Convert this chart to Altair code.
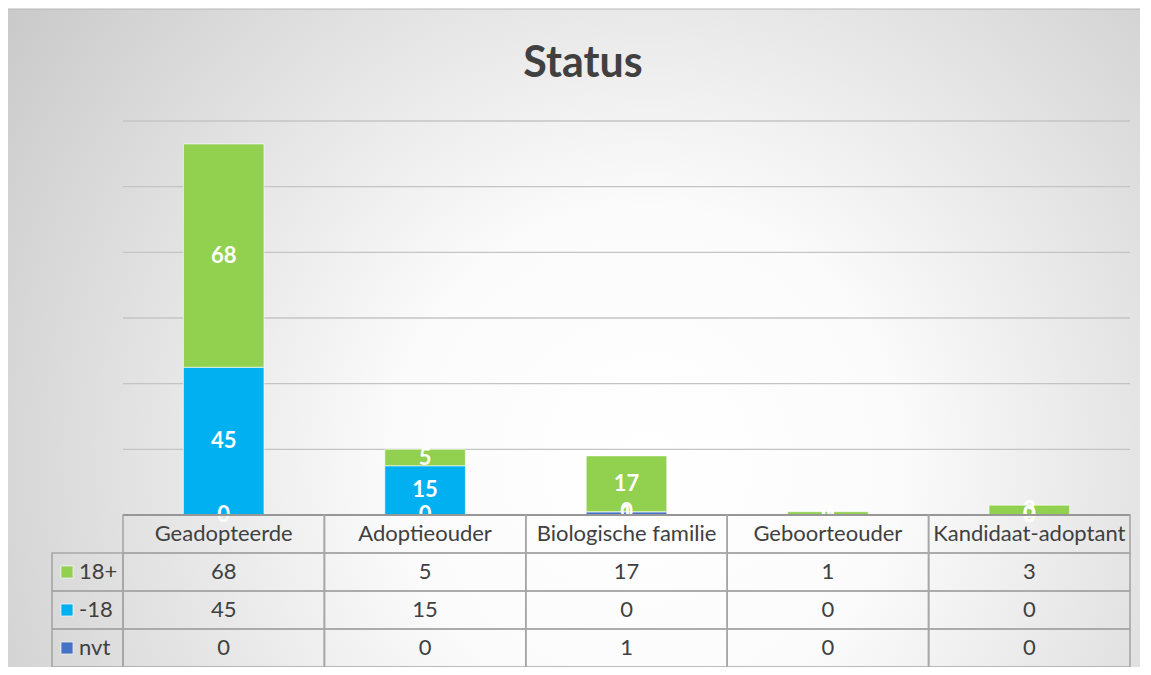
import altair as alt
import pandas as pd

# ---- data ----
categories = ["Geadopteerde", "Adoptieouder", "Biologische familie", "Geboorteouder", "Kandidaat-adoptant"]
values_18plus = [68, 5, 17, 1, 3]
values_min18 = [45, 15, 0, 0, 0]
values_nvt = [0, 0, 1, 0, 0]
stack_series = ["nvt", "-18", "18+"]          # bottom -> top
table_rows = ["18+", "-18", "nvt"]            # table order
series_colors = ["#92D050", "#00B0F0", "#4472C4"]  # for table_rows order
y_ticks = [20, 40, 60, 80, 100, 120]
title_text = "Status"

series_values = {"nvt": values_nvt, "-18": values_min18, "18+": values_18plus}

rows = []
for i, c in enumerate(categories):
    for o, s in enumerate(stack_series):
        rows.append({"cat": c, "series": s, "value": series_values[s][i], "ord": o})
df = pd.DataFrame(rows)

trows = []
for i, c in enumerate(categories):
    trows.append({"cat": c, "row": "header", "label": c})
    for s in table_rows:
        trows.append({"cat": c, "row": s, "label": str(series_values[s][i])})
tdf = pd.DataFrame(trows)
ldf = pd.DataFrame({"row": table_rows, "series": table_rows})

# ---- layout ----
W, PH, TH = 1007, 394, 152
H = PH + TH
FONT = "Lato"
TXT = "#404040"
LINE = "#a6a6a6"

x = alt.X("cat:N", sort=categories,
          scale=alt.Scale(domain=categories, paddingInner=0, paddingOuter=0), axis=None)
color = alt.Color("series:N", scale=alt.Scale(domain=table_rows, range=series_colors), legend=None)

yscale = alt.Scale(domain=[0, 120], range=[PH, 0], nice=False, zero=True)

grid = alt.Chart(pd.DataFrame({"t": y_ticks})).mark_rule(color="#c4c4c4", strokeWidth=1.3).encode(
    y=alt.Y("t:Q", scale=yscale, axis=None), x=alt.value(0), x2=alt.value(W))

base = alt.Chart(df).transform_stack(
    stack="value", groupby=["cat"], as_=["y0", "y1"],
    sort=[alt.SortField("ord", order="ascending")]
).transform_calculate(mid="(datum.y0 + datum.y1) / 2")

bars = base.mark_bar(width=alt.RelativeBandSize(0.4), stroke="#ffffff",
                     strokeWidth=1, strokeOpacity=0.6).encode(
    x=x, y=alt.Y("y0:Q", scale=yscale, axis=None), y2="y1:Q", color=color)

labels = base.mark_text(font=FONT, fontSize=22, fontWeight="bold", color="white",
                        baseline="middle").encode(
    x=x, y=alt.Y("mid:Q", scale=yscale, axis=None), text="value:Q")

axis_rule = alt.Chart(pd.DataFrame({"v": [0]})).mark_rule(color="#6b6b6b", strokeWidth=2).encode(
    y=alt.Y("v:Q", scale=yscale, axis=None), x=alt.value(0), x2=alt.value(W))

bar_group = alt.layer(grid, bars, labels, axis_rule)

yt = alt.Y("row:N", scale=alt.Scale(domain=["header"] + table_rows, range=[PH, H],
                                    paddingInner=0, paddingOuter=0), axis=None)

cells = alt.Chart(tdf).mark_rect(fillOpacity=0, stroke=LINE, strokeWidth=1.6).encode(x=x, y=yt)
cell_text = alt.Chart(tdf).mark_text(font=FONT, fontSize=22, color=TXT, baseline="middle").encode(
    x=x, y=yt, text="label:N")
leg_cells = alt.Chart(ldf).mark_rect(fillOpacity=0, stroke=LINE, strokeWidth=1.6).encode(
    x=alt.value(-71), x2=alt.value(0), y=yt)
leg_sq = alt.Chart(ldf).mark_square(size=150, opacity=1, stroke="#f0f0f0", strokeWidth=1).encode(
    x=alt.value(-56), y=yt, color=color)
leg_text = alt.Chart(ldf).mark_text(font=FONT, fontSize=22, color=TXT, align="left",
                                    baseline="middle").encode(
    x=alt.value(-44), y=yt, text="row:N")

table_group = alt.layer(cells, cell_text, leg_cells, leg_sq, leg_text)

gradient = {
    "gradient": "radial",
    "x1": 0.55, "y1": 0.6, "r1": 0,
    "x2": 0.55, "y2": 0.6, "r2": 0.72,
    "stops": [
        {"offset": 0, "color": "#ffffff"},
        {"offset": 0.3, "color": "#fbfbfb"},
        {"offset": 1, "color": "#c4c4c4"},
    ],
}
one = pd.DataFrame({"k": [0]})
bg = alt.Chart(one).mark_rect(fill=gradient, stroke="#b8b8b8", strokeWidth=1).encode(
    x=alt.value(-117), x2=alt.value(W + 40), y=alt.value(-112), y2=alt.value(H + 10))

title = alt.Chart(one).mark_text(text=title_text, font=FONT, fontSize=43, fontWeight="bold",
                                 color=TXT, align="center", baseline="alphabetic").encode(
    x=alt.value(460), y=alt.value(-44))

chart = alt.layer(bg, title, bar_group, table_group).resolve_scale(y="independent").properties(
    width=W, height=H,
    autosize=alt.AutoSizeParams(type="none"),
    padding={"left": 115, "top": 113, "right": 10, "bottom": 0},
).configure_view(stroke=None).configure(background="white")

chart.save("out.html", embed_options={"renderer": "svg", "actions": False})
